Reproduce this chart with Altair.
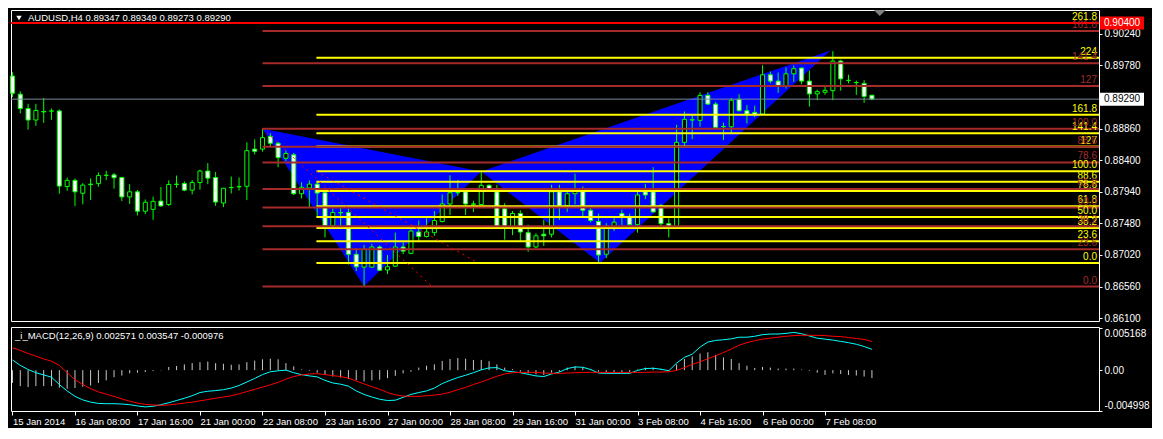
import altair as alt
import pandas as pd

# ---------------- data (AUDUSD H4, bar 0 = 15 Jan 2014 00:00) -------------
opens = [0.89627, 0.89362, 0.89153, 0.88986, 0.89111, 0.89115, 0.89118, 0.88017, 0.88107, 0.87919,
         0.88052, 0.88059, 0.88182, 0.88187, 0.88149, 0.87866, 0.87940, 0.87657, 0.87685, 0.87805,
         0.87755, 0.88052, 0.88061, 0.87964, 0.88075, 0.88243, 0.88149, 0.87777, 0.88000, 0.88012,
         0.88020, 0.88563, 0.88563, 0.88748, 0.88647, 0.88428, 0.88479, 0.87912, 0.87996, 0.88052,
         0.87926, 0.87448, 0.87638, 0.87638, 0.87030, 0.86843, 0.86843, 0.87136, 0.86801, 0.86857,
         0.87136, 0.87044, 0.87355, 0.87289, 0.87345, 0.87508, 0.87763, 0.87926, 0.87940, 0.87763,
         0.87755, 0.88034, 0.87940, 0.87693, 0.87415, 0.87624, 0.87345, 0.87136, 0.87322, 0.87322,
         0.87940, 0.87741, 0.87912, 0.87986, 0.87671, 0.87508, 0.87030, 0.87438, 0.87623, 0.87568,
         0.87462, 0.87940, 0.87940, 0.87741, 0.87476, 0.87415, 0.88661, 0.88986, 0.88981, 0.89344,
         0.89218, 0.88888, 0.88888, 0.89288, 0.89121, 0.89097, 0.89073, 0.89645, 0.89553, 0.89483,
         0.89659, 0.89742, 0.89553, 0.89366, 0.89390, 0.89413, 0.89845, 0.89561, 0.89529, 0.89519,
         0.89347]
highs = [0.89682, 0.89404, 0.89222, 0.89222, 0.89306, 0.89153, 0.89139, 0.88149, 0.88135, 0.88066,
         0.88135, 0.88223, 0.88247, 0.88215, 0.88159, 0.88052, 0.87968, 0.87829, 0.87870, 0.88010,
         0.88107, 0.88177, 0.88093, 0.88112, 0.88261, 0.88358, 0.88229, 0.87996, 0.88163, 0.88149,
         0.88661, 0.88703, 0.88860, 0.88795, 0.88669, 0.88539, 0.88507, 0.88080, 0.88107, 0.88089,
         0.87996, 0.87693, 0.87741, 0.87693, 0.87122, 0.87169, 0.87183, 0.87160, 0.87020, 0.87345,
         0.87206, 0.87392, 0.87522, 0.87554, 0.87661, 0.87902, 0.88181, 0.88112, 0.87966, 0.87811,
         0.88229, 0.88052, 0.88042, 0.87773, 0.87661, 0.87671, 0.87462, 0.87337, 0.87532, 0.88042,
         0.88042, 0.87996, 0.88205, 0.88020, 0.87741, 0.87623, 0.87484, 0.87554, 0.87679, 0.87623,
         0.87950, 0.88052, 0.88298, 0.87763, 0.87554, 0.88916, 0.89111, 0.89055, 0.89390, 0.89390,
         0.89250, 0.88948, 0.89306, 0.89362, 0.89204, 0.89195, 0.89784, 0.89692, 0.89678, 0.89752,
         0.89780, 0.89752, 0.89706, 0.89427, 0.89492, 0.89989, 0.89864, 0.89645, 0.89561, 0.89567,
         0.89349]
lows = [0.89320, 0.89083, 0.88846, 0.88902, 0.88944, 0.88990, 0.87912, 0.87954, 0.87731, 0.87759,
        0.87819, 0.88014, 0.88112, 0.87986, 0.87805, 0.87763, 0.87596, 0.87615, 0.87532, 0.87721,
        0.87735, 0.88000, 0.87950, 0.87903, 0.87972, 0.88052, 0.87735, 0.87717, 0.87916, 0.87958,
        0.87819, 0.88484, 0.88525, 0.88599, 0.88298, 0.88390, 0.87894, 0.87843, 0.87717, 0.87578,
        0.87275, 0.87415, 0.87438, 0.86881, 0.86787, 0.86560, 0.86832, 0.86787, 0.86741, 0.86846,
        0.87030, 0.87030, 0.87206, 0.87275, 0.87299, 0.87494, 0.87601, 0.87880, 0.87601, 0.87647,
        0.87745, 0.87972, 0.87431, 0.87243, 0.87309, 0.87215, 0.87066, 0.87113, 0.87150, 0.87275,
        0.87532, 0.87647, 0.87755, 0.87578, 0.87494, 0.86909, 0.86974, 0.87369, 0.87456, 0.87410,
        0.87345, 0.87833, 0.87640, 0.87415, 0.87275, 0.87410, 0.88609, 0.88707, 0.88888, 0.89208,
        0.88874, 0.88693, 0.88786, 0.89111, 0.88934, 0.89027, 0.89069, 0.89519, 0.89380, 0.89445,
        0.89539, 0.89506, 0.89181, 0.89274, 0.89352, 0.89274, 0.89413, 0.89519, 0.89352, 0.89236,
        0.89273]
closes = [0.89376, 0.89153, 0.88986, 0.89125, 0.89104, 0.89118, 0.88024, 0.88107, 0.87940, 0.88038,
          0.88045, 0.88177, 0.88180, 0.88145, 0.87866, 0.87940, 0.87657, 0.87787, 0.87801, 0.87735,
          0.88047, 0.88048, 0.87964, 0.88075, 0.88243, 0.88139, 0.87791, 0.87992, 0.88004, 0.88016,
          0.88539, 0.88530, 0.88730, 0.88647, 0.88438, 0.88498, 0.87912, 0.88006, 0.88052, 0.87922,
          0.87448, 0.87638, 0.87634, 0.87030, 0.86849, 0.87104, 0.87136, 0.86797, 0.86849, 0.87136,
          0.87076, 0.87369, 0.87289, 0.87355, 0.87522, 0.87763, 0.87926, 0.87930, 0.87763, 0.87760,
          0.88034, 0.87986, 0.87438, 0.87415, 0.87624, 0.87355, 0.87136, 0.87299, 0.87299, 0.87940,
          0.87741, 0.87912, 0.87986, 0.87671, 0.87522, 0.87020, 0.87438, 0.87498, 0.87578, 0.87462,
          0.87894, 0.87894, 0.87647, 0.87476, 0.87415, 0.88661, 0.88995, 0.88990, 0.89344, 0.89218,
          0.88878, 0.88892, 0.89274, 0.89121, 0.89073, 0.89065, 0.89645, 0.89553, 0.89483, 0.89659,
          0.89734, 0.89553, 0.89366, 0.89399, 0.89418, 0.89845, 0.89585, 0.89565, 0.89533, 0.89330,
          0.89290]

macd_main = [0.001262, 0.000592, 0.000079, -0.000316, -0.000592, -0.000868, -0.001775, -0.002564, -0.003235, -0.003669,
             -0.003945, -0.004103, -0.004142, -0.004142, -0.004182, -0.004261, -0.004418, -0.004537, -0.004458, -0.004261,
             -0.004024, -0.003748, -0.003472, -0.003156, -0.002762, -0.002604, -0.002525, -0.002406, -0.002209, -0.001894,
             -0.001460, -0.001026, -0.000552, -0.000197, -0.000079, 0.000000, -0.000316, -0.000552, -0.000710, -0.000828,
             -0.001262, -0.001578, -0.001736, -0.001973, -0.002564, -0.002998, -0.003314, -0.003590, -0.003748, -0.003708,
             -0.003353, -0.002998, -0.002762, -0.002564, -0.002209, -0.001657, -0.001262, -0.000907, -0.000631, -0.000316,
             0.000039, 0.000276, 0.000316, -0.000079, -0.000197, -0.000316, -0.000513, -0.000710, -0.000789, -0.000473,
             -0.000237, 0.000197, 0.000395, 0.000355, 0.000079, -0.000355, -0.000395, -0.000395, -0.000395, -0.000395,
             -0.000039, 0.000197, 0.000237, 0.000118, -0.000079, 0.000868, 0.001578, 0.001973, 0.002840, 0.003472,
             0.003669, 0.003748, 0.003866, 0.004063, 0.004063, 0.004182, 0.004379, 0.004458, 0.004458, 0.004537,
             0.004655, 0.004497, 0.004221, 0.003945, 0.003827, 0.003708, 0.003551, 0.003393, 0.003195, 0.002919,
             0.002571]
macd_signal = [0.002762, 0.002446, 0.002051, 0.001736, 0.001381, 0.001105, 0.000592, -0.000316, -0.001184, -0.001775,
               -0.002288, -0.002683, -0.002959, -0.003235, -0.003551, -0.003827, -0.004063, -0.004221, -0.004300, -0.004340,
               -0.004300, -0.004182, -0.004063, -0.003945, -0.003787, -0.003629, -0.003472, -0.003314, -0.003156, -0.002919,
               -0.002643, -0.002367, -0.002091, -0.001815, -0.001499, -0.001105, -0.000789, -0.000592, -0.000473, -0.000434,
               -0.000552, -0.000671, -0.000789, -0.000986, -0.001341, -0.001696, -0.002051, -0.002367, -0.002762, -0.003038,
               -0.003195, -0.003235, -0.003235, -0.003156, -0.003077, -0.002959, -0.002722, -0.002406, -0.002130, -0.001775,
               -0.001460, -0.001105, -0.000750, -0.000473, -0.000316, -0.000276, -0.000276, -0.000276, -0.000355, -0.000395,
               -0.000395, -0.000355, -0.000316, -0.000276, -0.000276, -0.000276, -0.000276, -0.000276, -0.000276, -0.000276,
               -0.000276, -0.000276, -0.000237, -0.000237, -0.000197, -0.000039, 0.000316, 0.000710, 0.001026, 0.001420,
               0.001775, 0.002170, 0.002604, 0.003077, 0.003393, 0.003629, 0.003827, 0.003945, 0.004063, 0.004182,
               0.004261, 0.004300, 0.004300, 0.004300, 0.004261, 0.004182, 0.004142, 0.004024, 0.003906, 0.003787,
               0.003547]
macd_hist = [-0.001578, -0.001973, -0.002091, -0.001973, -0.001973, -0.001973, -0.002170, -0.002288, -0.002209, -0.002051,
             -0.001894, -0.001578, -0.001262, -0.000868, -0.000671, -0.000395, -0.000316, -0.000237, -0.000118, -0.000039,
             0.000395, 0.000513, 0.000710, 0.000868, 0.000986, 0.001065, 0.000868, 0.000789, 0.000671, 0.000710,
             0.000986, 0.001184, 0.001341, 0.001420, 0.001341, 0.000868, 0.000473, 0.000079, -0.000079, -0.000316,
             -0.000592, -0.000789, -0.000907, -0.001105, -0.001262, -0.001381, -0.001262, -0.001184, -0.000986, -0.000710,
             -0.000395, -0.000197, 0.000316, 0.000552, 0.000710, 0.001144, 0.001381, 0.001499, 0.001420, 0.001262,
             0.001262, 0.001105, 0.000710, 0.000316, 0.000118, -0.000197, -0.000395, -0.000513, -0.000592, -0.000316,
             -0.000197, 0.000316, 0.000473, 0.000395, 0.000158, -0.000197, -0.000237, -0.000237, -0.000237, -0.000237,
             0.000079, 0.000316, 0.000316, 0.000158, -0.000079, 0.000710, 0.001381, 0.001696, 0.002051, 0.002209,
             0.001894, 0.001578, 0.001381, 0.000868, 0.000552, 0.000276, 0.000395, 0.000316, 0.000197, 0.000197,
             0.000197, 0.000079, -0.000079, -0.000316, -0.000592, -0.000395, -0.000473, -0.000592, -0.000671, -0.000789,
             -0.000976]

time_labels = ["15 Jan 2014", "16 Jan 08:00", "17 Jan 16:00", "21 Jan 00:00", "22 Jan 08:00",
               "23 Jan 16:00", "27 Jan 00:00", "28 Jan 08:00", "29 Jan 16:00", "31 Jan 00:00",
               "3 Feb 08:00", "4 Feb 16:00", "6 Feb 00:00", "7 Feb 08:00"]
time_label_bars = [0, 8, 16, 24, 32, 40, 48, 56, 64, 72, 80, 88, 96, 104]

price_ticks = [0.90240, 0.89780, 0.89320, 0.88860, 0.88400, 0.87940, 0.87480, 0.87020, 0.86560, 0.86100]
macd_ticks = [0.005168, 0.0, -0.004998]
macd_tick_labels = ["0.005168", "0.00", "-0.004998"]

# Fibonacci tools (anchors: bar, price)
brown_pct = [0, 23.6, 38.2, 50, 61.8, 78.6, 88.6, 100, 127, 141.4, 161.8]
brown_labels = ["0.0", "23.6", "38.2", "50.0", "61.8", "78.6", "88.6", "100.0", "127", "141.4", "161.8"]
brown_bar_100, brown_price_100 = 32.0, 0.88860
brown_bar_0, brown_price_0 = 53.7, 0.86560
yellow_pct = [0, 23.6, 38.2, 50, 61.8, 78.6, 88.6, 100, 127, 141.4, 161.8, 224, 261.8]
yellow_labels = ["0.0", "23.6", "38.2", "50.0", "61.8", "78.6", "88.6", "100.0", "127", "141.4", "161.8", "224", "261.8"]
yellow_bar_100, yellow_price_100 = 38.9, 0.88239
yellow_bar_0, yellow_price_0 = 59.6, 0.86904

# harmonic pattern X, A, B, C, D
pattern_bars = [32.0, 45.0, 60.0, 75.2, 104.7]
pattern_prices = [0.88860, 0.86565, 0.88235, 0.86905, 0.90000]

alert_price = 0.90400
bid_price = 0.89290

# ---------------- layout / style ----------------
FONT = "Liberation Sans"
LIME = "#00FF00"
BROWN = "#A52A2A"
YELLOW = "#FFFF00"
W, H1, H2 = 1088, 311, 84
x_domain = [-0.1875, 139.0625]
y_domain = [0.860583, 0.905884]
m_domain = [-0.005041, 0.005325]

xs = alt.Scale(domain=x_domain, nice=False, zero=False)
ys = alt.Scale(domain=y_domain, nice=False, zero=False)
ms = alt.Scale(domain=m_domain, nice=False, zero=False)

y_axis = alt.Axis(orient="right", values=price_ticks, format=".5f", labelColor="white",
                  tickColor="white", tickSize=3, domain=False, grid=False, title=None,
                  labelFontSize=10, labelPadding=2, labelOverlap=False, labelFont=FONT, zindex=0)


def X(f):
    return alt.X(f, type="quantitative", scale=xs, axis=None)


def Y(f):
    return alt.Y(f, type="quantitative", scale=ys, axis=y_axis)


n = len(opens)
candles = pd.DataFrame({"bar": list(range(n)), "open": opens, "high": highs,
                        "low": lows, "close": closes})


# pattern triangles (X-A-B and B-C-D) as areas between the outer edge and the inner vertex
def triangle(i0, i1, i2):
    b0, b1, b2 = pattern_bars[i0], pattern_bars[i1], pattern_bars[i2]
    p0, p1, p2 = pattern_prices[i0], pattern_prices[i1], pattern_prices[i2]
    edge = p0 + (p2 - p0) * (b1 - b0) / (b2 - b0)
    return pd.DataFrame({"bar": [b0, b1, b2], "top": [p0, edge, p2], "bot": [p0, p1, p2]})


tri_layers = [
    alt.Chart(triangle(a, b, c)).mark_area(color="#0000FF", opacity=1, interpolate="linear")
    .encode(x=X("bar"), y=alt.Y("top", type="quantitative", scale=ys, axis=y_axis, stack=None), y2="bot")
    for a, b, c in [(0, 1, 2), (2, 3, 4)]
]

wicks = alt.Chart(candles).mark_rule(color=LIME, strokeWidth=1).encode(
    x=X("bar"), y=Y("low"), y2="high")
bodies = alt.Chart(candles).transform_calculate(
    x0="datum.bar - 0.26", x1="datum.bar + 0.26"
).mark_rect(stroke=LIME, strokeWidth=1).encode(
    x=X("x0"), x2="x1", y=Y("open"), y2="close",
    fill=alt.condition("datum.close > datum.open", alt.value("black"), alt.value("white")))

fib_rows = []
for pct, lab in zip(yellow_pct, yellow_labels):
    fib_rows.append({"price": yellow_price_0 + (yellow_price_100 - yellow_price_0) * pct / 100,
                     "label": lab, "color": YELLOW, "start": yellow_bar_100})
for pct, lab in zip(brown_pct, brown_labels):
    fib_rows.append({"price": brown_price_0 + (brown_price_100 - brown_price_0) * pct / 100,
                     "label": lab, "color": BROWN, "start": brown_bar_100})
fib = pd.DataFrame(fib_rows)

fib_lines = alt.Chart(fib).transform_calculate(end="1000").mark_rule(strokeWidth=2, clip=True).encode(
    x=X("start"), x2="end:Q", y=Y("price"), color=alt.Color("color:N", scale=None))
fib_text = alt.Chart(fib).mark_text(align="right", baseline="bottom", dy=-1, fontSize=10, font=FONT).encode(
    x=alt.value(W - 2), y=Y("price"), text="label:N", color=alt.Color("color:N", scale=None))

trend = pd.DataFrame({"x": [brown_bar_100, yellow_bar_100], "x2": [brown_bar_0, yellow_bar_0],
                      "y": [brown_price_100, yellow_price_100], "y2": [brown_price_0, yellow_price_0]})
trend_lines = alt.Chart(trend).mark_rule(color="#FF0000", strokeWidth=1, strokeDash=[2, 4]).encode(
    x=X("x"), x2="x2", y=Y("y"), y2="y2")

alert_line = alt.Chart(pd.DataFrame({"price": [alert_price]})).mark_rule(color="#FF0000", strokeWidth=2).encode(
    y=Y("price"))
bid_line = alt.Chart(pd.DataFrame({"price": [bid_price]})).mark_rule(color="#778899", strokeWidth=1).encode(
    y=Y("price"))

title_df = pd.DataFrame({"t": ["AUDUSD,H4  %.5f %.5f %.5f %.5f" % (opens[-1], highs[-1], lows[-1], closes[-1])]})
title = alt.Chart(title_df).mark_text(align="left", baseline="middle", color="white", fontSize=9.5,
                                      font=FONT).encode(x=alt.value(17), y=alt.value(8), text="t:N")
title_tri = alt.Chart(title_df).mark_point(shape="triangle-down", filled=True, color="white", size=30,
                                           opacity=1).encode(x=alt.value(8), y=alt.value(8))
shift_mark = alt.Chart(pd.DataFrame({"bar": [n]})).mark_point(
    shape="M-1,-0.5L1,-0.5L0,0.5Z", filled=True, color="#808080", size=144, opacity=1).encode(
    x=X("bar"), y=alt.value(3))

half = (y_domain[1] - y_domain[0]) / H1 * 6.5
boxes = pd.DataFrame({"price": [alert_price, bid_price], "label": ["%.5f" % alert_price, "%.5f" % bid_price],
                      "fill": ["#FF0000", "#FFFFFF"], "tcolor": ["#FFFFFF", "#000000"]})
box_rect = alt.Chart(boxes).transform_calculate(
    hi="datum.price + %f" % half, lo="datum.price - %f" % half
).mark_rect().encode(x=alt.value(W + 1), x2=alt.value(W + 45), y=Y("hi"), y2="lo",
                     fill=alt.Color("fill:N", scale=None))
box_text = alt.Chart(boxes).mark_text(align="left", baseline="middle", fontSize=10, font=FONT).encode(
    x=alt.value(W + 5), y=Y("price"), text="label:N", color=alt.Color("tcolor:N", scale=None))

main = alt.layer(*tri_layers, wicks, bodies, fib_lines, trend_lines, alert_line, bid_line,
                 fib_text, title, title_tri, shift_mark, box_rect, box_text).properties(width=W, height=H1)

# ---------------- MACD panel ----------------
mdf = pd.DataFrame({"bar": list(range(n)), "main": macd_main, "signal": macd_signal, "hist": macd_hist})

m_label_expr = "".join("abs(datum.value - (%r)) < 1e-7 ? '%s' : " % (v, s)
                       for v, s in zip(macd_ticks, macd_tick_labels)) + "''"
m_axis = alt.Axis(orient="right", values=macd_ticks, labelExpr=m_label_expr, labelColor="white",
                  tickColor="white", tickSize=3, domain=False, grid=False, title=None,
                  labelFontSize=10, labelPadding=2, labelOverlap=False, labelFont=FONT,
                  labelBaseline={"condition": [{"test": "datum.value > 0.001", "value": "top"},
                                               {"test": "datum.value < -0.001", "value": "bottom"}],
                                 "value": "middle"})
x_label_expr = "[" + ",".join("'%s'" % s for s in time_labels) + "][indexof([" + \
               ",".join(str(b) for b in time_label_bars) + "], datum.value)]"
x_axis = alt.Axis(orient="bottom", values=time_label_bars, labelExpr=x_label_expr, labelAlign="left",
                  labelColor="white", tickColor="white", tickSize=4, domain=False, grid=False, title=None,
                  labelFontSize=9.5, labelPadding=1, labelFlush=False, labelOverlap=False, labelFont=FONT)


def XM(f):
    return alt.X(f, type="quantitative", scale=xs, axis=x_axis)


def YM(f):
    return alt.Y(f, type="quantitative", scale=ms, axis=m_axis)


hist = alt.Chart(mdf).transform_calculate(zero="0").mark_rule(color="#C8C8C8", strokeWidth=1).encode(
    x=XM("bar"), y=YM("zero"), y2="hist")
cyan = alt.Chart(mdf).mark_line(color="#00FFFF", strokeWidth=1).encode(x=XM("bar"), y=YM("main"))
red = alt.Chart(mdf).mark_line(color="#FF0000", strokeWidth=1).encode(x=XM("bar"), y=YM("signal"))
mt_df = pd.DataFrame({"t": ["_i_MACD(12,26,9) %.6f %.6f %.6f" % (macd_main[-1], macd_signal[-1], macd_hist[-1])]})
mtitle = alt.Chart(mt_df).mark_text(align="left", baseline="middle", color="white", fontSize=9.5,
                                    font=FONT).encode(x=alt.value(4), y=alt.value(9), text="t:N")

macd = alt.layer(hist, cyan, red, mtitle).properties(width=W, height=H2)

chart = alt.vconcat(main, macd, spacing=2).resolve_scale(x="independent", y="independent").properties(
    padding={"left": 1, "top": 1, "right": 2, "bottom": 2}, background="black"
).configure_view(stroke="white", strokeWidth=1).configure_text(font=FONT).configure_axis(labelFont=FONT)

chart.save("out.html", embed_options={"renderer": "svg", "actions": False})
